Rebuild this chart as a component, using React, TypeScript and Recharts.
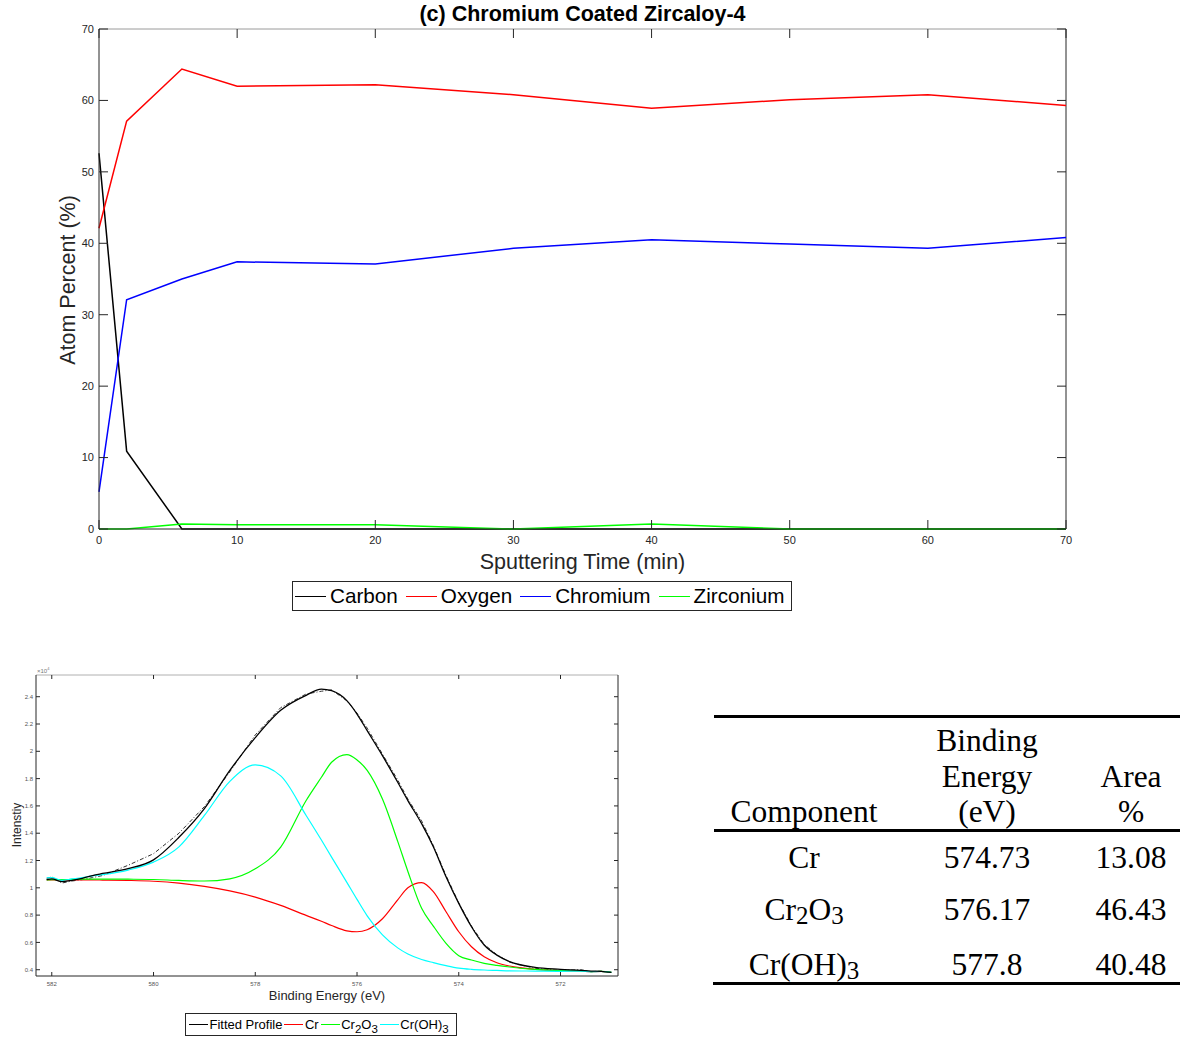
import React from 'react'
import { LineChart, Line, XAxis, YAxis, ReferenceLine } from 'recharts'

// depth profile (c) - atom percent vs sputtering time
const sputterTime = [0, 2, 6, 10, 20, 30, 40, 50, 60, 70]
const carbon = [52.6, 10.9, 0, 0, 0, 0, 0, 0, 0, 0]
const oxygen = [42.1, 57.1, 64.4, 62.0, 62.2, 60.8, 58.9, 60.1, 60.8, 59.3]
const chromium = [5.2, 32.1, 35.0, 37.4, 37.1, 39.3, 40.5, 39.9, 39.3, 40.8]
const zirconium = [0, 0, 0.7, 0.6, 0.6, 0, 0.7, 0, 0, 0]
const timeTicks = [0, 10, 20, 30, 40, 50, 60, 70]
const atomTicks = [0, 10, 20, 30, 40, 50, 60, 70]

// Cr 2p3/2 fit
const bindingEnergy = [582.1, 582.0, 581.8, 581.6, 581.4, 581.2, 581.0, 580.5, 580.0, 579.5, 579.0, 578.5, 578.0, 577.5, 577.0, 576.7, 576.5, 576.2, 576.0, 575.8, 575.5, 575.2, 575.0, 574.73, 574.5, 574.25, 574.0, 573.75, 573.5, 573.25, 573.0, 572.5, 572.0, 571.6, 571.4, 571.2, 571.0]
const fittedProfile = [1.06, 1.065, 1.045, 1.055, 1.07, 1.09, 1.105, 1.14, 1.205, 1.37, 1.58, 1.86, 2.1, 2.3, 2.41, 2.456, 2.444, 2.371, 2.273, 2.151, 1.968, 1.773, 1.639, 1.47, 1.301, 1.081, 0.886, 0.715, 0.581, 0.507, 0.459, 0.417, 0.403, 0.395, 0.39, 0.388, 0.38]
const rawSpectrum = [1.07, 1.08, 1.035, 1.05, 1.06, 1.075, 1.09, 1.165, 1.25, 1.4, 1.595, 1.85, 2.12, 2.32, 2.42, 2.44, 2.45, 2.37, 2.28, 2.17, 1.98, 1.79, 1.65, 1.49, 1.31, 1.09, 0.89, 0.72, 0.585, 0.51, 0.455, 0.41, 0.395, 0.4, 0.385, 0.39, 0.38]
const crMetal = [1.058, 1.058, 1.058, 1.058, 1.058, 1.058, 1.057, 1.054, 1.048, 1.034, 1.01, 0.977, 0.932, 0.871, 0.798, 0.755, 0.724, 0.685, 0.678, 0.693, 0.773, 0.912, 1.0, 1.038, 0.972, 0.825, 0.678, 0.568, 0.495, 0.451, 0.427, 0.403, 0.393, 0.39, 0.385, 0.387, 0.38]
const crOxide = [1.058, 1.06, 1.06, 1.062, 1.063, 1.064, 1.064, 1.063, 1.061, 1.054, 1.05, 1.066, 1.139, 1.298, 1.64, 1.81, 1.92, 1.976, 1.937, 1.86, 1.65, 1.34, 1.12, 0.85, 0.72, 0.593, 0.503, 0.471, 0.447, 0.432, 0.42, 0.402, 0.393, 0.392, 0.386, 0.388, 0.38]
const crHydroxide = [1.073, 1.075, 1.055, 1.065, 1.075, 1.088, 1.097, 1.13, 1.188, 1.3, 1.53, 1.78, 1.9, 1.82, 1.53, 1.35, 1.225, 1.04, 0.915, 0.795, 0.655, 0.56, 0.515, 0.475, 0.452, 0.43, 0.412, 0.403, 0.398, 0.395, 0.392, 0.39, 0.388, 0.39, 0.385, 0.387, 0.38]
const energyTicks = [582, 580, 578, 576, 574, 572]
const intensityTicks = [0.4, 0.6, 0.8, 1, 1.2, 1.4, 1.6, 1.8, 2, 2.2, 2.4]

// fit table
const components = ['Cr', 'Cr2O3', 'Cr(OH)3']
const peakEnergies = ['574.73', '576.17', '577.8']
const areaPercent = ['13.08', '46.43', '40.48']

const AXIS = '#262626'
const SANS = "Arial, 'Liberation Sans', Helvetica, sans-serif"
const SERIF = "'Times New Roman', 'Liberation Serif', serif"

const profileSeries = [
  { key: 'carbon', name: 'Carbon', color: '#000000' },
  { key: 'oxygen', name: 'Oxygen', color: '#ff0000' },
  { key: 'chromium', name: 'Chromium', color: '#0000ff' },
  { key: 'zirconium', name: 'Zirconium', color: '#00ff00' },
]
const profileData = sputterTime.map((t, i) => ({
  t,
  carbon: carbon[i],
  oxygen: oxygen[i],
  chromium: chromium[i],
  zirconium: zirconium[i],
}))

const fitSeries = [
  { key: 'fit', name: 'Fitted Profile', color: '#000000' },
  { key: 'cr', name: 'Cr', color: '#ff0000' },
  { key: 'cr2o3', name: 'Cr2O3', color: '#00ff00' },
  { key: 'croh3', name: 'Cr(OH)3', color: '#00ffff' },
]
const fitData = bindingEnergy.map((e, i) => ({
  e,
  fit: fittedProfile[i],
  raw: rawSpectrum[i],
  cr: crMetal[i],
  cr2o3: crOxide[i],
  croh3: crHydroxide[i],
}))

// plot boxes in svg coords
const TOP = { left: 99, right: 1066, top: 29, bottom: 529 }
const BOT = { left: 36, right: 618, top: 15, bottom: 316 }

// digits in a formula become subscripts
const chem = (label: string, subStyle: React.CSSProperties) =>
  label.split(/(\d)/).map((part, i) =>
    /\d/.test(part) ? <sub key={i} style={subStyle}>{part}</sub> : <span key={i}>{part}</span>
  )

const timeTick = (props: any) => {
  const { x, y, payload } = props
  return (
    <g>
      <line x1={x} x2={x} y1={y} y2={y - 9} stroke={AXIS} />
      <line x1={x} x2={x} y1={TOP.top} y2={TOP.top + 9} stroke={AXIS} />
      <text x={x} y={y + 15} textAnchor="middle" fontSize={11} fill={AXIS}>{payload.value}</text>
    </g>
  )
}

const atomTick = (props: any) => {
  const { x, y, payload } = props
  return (
    <g>
      <line x1={x} x2={x + 9} y1={y} y2={y} stroke={AXIS} />
      <line x1={TOP.right} x2={TOP.right - 9} y1={y} y2={y} stroke={AXIS} />
      <text x={x - 5} y={y} dy="0.35em" textAnchor="end" fontSize={11} fill={AXIS}>{payload.value}</text>
    </g>
  )
}

const energyTick = (props: any) => {
  const { x, y, payload } = props
  return (
    <g>
      <line x1={x} x2={x} y1={y} y2={y - 4} stroke={AXIS} />
      <line x1={x} x2={x} y1={BOT.top} y2={BOT.top + 4} stroke={AXIS} />
      <text x={x} y={y + 10} textAnchor="middle" fontSize={6} fill="#555">{payload.value}</text>
    </g>
  )
}

const intensityTick = (props: any) => {
  const { x, y, payload } = props
  return (
    <g>
      <line x1={x} x2={x + 4} y1={y} y2={y} stroke={AXIS} />
      <line x1={BOT.right} x2={BOT.right - 4} y1={y} y2={y} stroke={AXIS} />
      <text x={x - 3} y={y} dy="0.35em" textAnchor="end" fontSize={6} fill="#555">{payload.value}</text>
    </g>
  )
}

function DepthProfile() {
  return (
    <div style={{ position: 'absolute', left: 0, top: 0, width: 1180, height: 620 }}>
      <LineChart width={1180} height={620} data={profileData} margin={{ top: 29, right: 114, bottom: 71, left: 59 }}>
        <XAxis
          dataKey="t"
          type="number"
          domain={[0, 70]}
          ticks={timeTicks}
          height={20}
          tickSize={0}
          tickMargin={0}
          tickLine={false}
          tick={timeTick}
          axisLine={{ stroke: AXIS }}
        />
        <YAxis
          type="number"
          domain={[0, 70]}
          ticks={atomTicks}
          width={40}
          tickSize={0}
          tickMargin={0}
          tickLine={false}
          tick={atomTick}
          axisLine={{ stroke: AXIS }}
        />
        <ReferenceLine y={70} stroke="#9a9a9a" />
        <ReferenceLine x={70} stroke={AXIS} />
        {profileSeries.map((s) => (
          <Line key={s.key} type="linear" dataKey={s.key} stroke={s.color} strokeWidth={1.5} dot={false} isAnimationActive={false} />
        ))}
      </LineChart>
      <div style={{ position: 'absolute', left: TOP.left, width: TOP.right - TOP.left, top: 1, textAlign: 'center', fontWeight: 'bold', fontSize: 21.5, lineHeight: '26px' }}>
        (c) Chromium Coated Zircaloy-4
      </div>
      <div style={{ position: 'absolute', left: TOP.left, width: TOP.right - TOP.left, top: 548, textAlign: 'center', fontSize: 21.5, lineHeight: '28px', color: AXIS }}>
        Sputtering Time (min)
      </div>
      <div style={{ position: 'absolute', left: 68, top: 280, transform: 'translate(-50%, -50%) rotate(-90deg)', whiteSpace: 'nowrap', fontSize: 21.5, color: AXIS }}>
        Atom Percent (%)
      </div>
      <div style={{ position: 'absolute', left: 292, top: 581, width: 500, height: 30, boxSizing: 'border-box', border: `1px solid ${AXIS}`, background: '#fff', display: 'flex', alignItems: 'center', paddingLeft: 2, fontSize: 20.7 }}>
        {profileSeries.map((s) => (
          <div key={s.key} style={{ display: 'flex', alignItems: 'center', marginRight: 8 }}>
            <div style={{ width: 31, height: 0, borderTop: `1.5px solid ${s.color}`, marginRight: 4 }} />
            <span>{s.name}</span>
          </div>
        ))}
      </div>
    </div>
  )
}

function FitSpectrum() {
  return (
    <div style={{ position: 'absolute', left: 0, top: 660, width: 640, height: 377 }}>
      <LineChart width={640} height={330} data={fitData} margin={{ top: 15, right: 22, bottom: 0, left: 0 }}>
        <XAxis
          dataKey="e"
          type="number"
          reversed
          domain={[570.87, 582.31]}
          ticks={energyTicks}
          height={14}
          tickSize={0}
          tickMargin={0}
          tickLine={false}
          tick={energyTick}
          axisLine={{ stroke: AXIS }}
        />
        <YAxis
          type="number"
          domain={[0.354, 2.559]}
          ticks={intensityTicks}
          width={36}
          tickSize={0}
          tickMargin={0}
          tickLine={false}
          tick={intensityTick}
          axisLine={{ stroke: AXIS }}
        />
        <ReferenceLine y={2.559} stroke="#b0b0b0" />
        <ReferenceLine x={570.87} stroke={AXIS} />
        <Line type="linear" dataKey="raw" stroke="#333" strokeWidth={1} strokeDasharray="4 2 1 2" dot={false} isAnimationActive={false} />
        <Line type="monotone" dataKey="cr" stroke="#ff0000" strokeWidth={1.2} dot={false} isAnimationActive={false} />
        <Line type="monotone" dataKey="cr2o3" stroke="#00ff00" strokeWidth={1.2} dot={false} isAnimationActive={false} />
        <Line type="monotone" dataKey="croh3" stroke="#00ffff" strokeWidth={1.2} dot={false} isAnimationActive={false} />
        <Line type="monotone" dataKey="fit" stroke="#000" strokeWidth={1.3} dot={false} isAnimationActive={false} />
      </LineChart>
      <div style={{ position: 'absolute', left: 37, top: 6, fontSize: 6, color: '#777' }}>
        ×10<sup style={{ fontSize: 4 }}>4</sup>
      </div>
      <div style={{ position: 'absolute', left: BOT.left, width: BOT.right - BOT.left, top: 328, textAlign: 'center', fontSize: 13, lineHeight: '16px', color: AXIS }}>
        Binding Energy (eV)
      </div>
      <div style={{ position: 'absolute', left: 16.5, top: 165, transform: 'translate(-50%, -50%) rotate(-90deg)', whiteSpace: 'nowrap', fontSize: 12, color: AXIS }}>
        Intenstiy
      </div>
      <div style={{ position: 'absolute', left: 185, top: 353, width: 272, height: 23, boxSizing: 'border-box', border: `1px solid ${AXIS}`, display: 'flex', alignItems: 'center', paddingLeft: 3, fontSize: 13, whiteSpace: 'nowrap' }}>
        {fitSeries.map((s) => (
          <div key={s.key} style={{ display: 'flex', alignItems: 'center', marginRight: 2, flexShrink: 0 }}>
            <div style={{ width: 19, height: 0, borderTop: `1px solid ${s.color}`, marginRight: 1.5 }} />
            <span style={{ whiteSpace: 'nowrap' }}>{chem(s.name, { fontSize: 11.5, verticalAlign: -4, lineHeight: 0 })}</span>
          </div>
        ))}
      </div>
    </div>
  )
}

function FitTable() {
  const cols = [804, 987, 1131]
  const cell = (cx: number, top: number, content: React.ReactNode, key: string) => (
    <div key={key} style={{ position: 'absolute', left: cx - 120, width: 240, top, textAlign: 'center', lineHeight: '36px', fontSize: 31.5, whiteSpace: 'nowrap' }}>
      {content}
    </div>
  )
  const rowTops = [840, 892, 947]
  const subStyle: React.CSSProperties = { fontSize: 25, verticalAlign: -4, lineHeight: 0 }
  return (
    <div style={{ position: 'absolute', left: 0, top: 0, width: 1180, height: 1037, fontFamily: SERIF, color: '#000' }}>
      <div style={{ position: 'absolute', left: 714, top: 715, width: 466, height: 3, background: '#000' }} />
      {cell(cols[1], 723, 'Binding', 'h1')}
      {cell(cols[1], 759, 'Energy', 'h2')}
      {cell(cols[1], 794, '(eV)', 'h3')}
      {cell(cols[0], 794, 'Component', 'h0')}
      {cell(cols[2], 759, 'Area', 'h4')}
      {cell(cols[2], 794, '%', 'h5')}
      <div style={{ position: 'absolute', left: 714, top: 829, width: 466, height: 2.5, background: '#000' }} />
      {components.map((c, i) => (
        <React.Fragment key={c}>
          {cell(cols[0], rowTops[i], chem(c, subStyle), `c${i}`)}
          {cell(cols[1], rowTops[i], peakEnergies[i], `e${i}`)}
          {cell(cols[2], rowTops[i], areaPercent[i], `a${i}`)}
        </React.Fragment>
      ))}
      <div style={{ position: 'absolute', left: 713, top: 982, width: 467, height: 3, background: '#000' }} />
    </div>
  )
}

export default function App() {
  return (
    <div style={{ position: 'absolute', left: 0, top: 0, width: 1180, height: 1037, background: '#fff', fontFamily: SANS, color: '#000', overflow: 'hidden' }}>
      <DepthProfile />
      <FitSpectrum />
      <FitTable />
    </div>
  )
}
